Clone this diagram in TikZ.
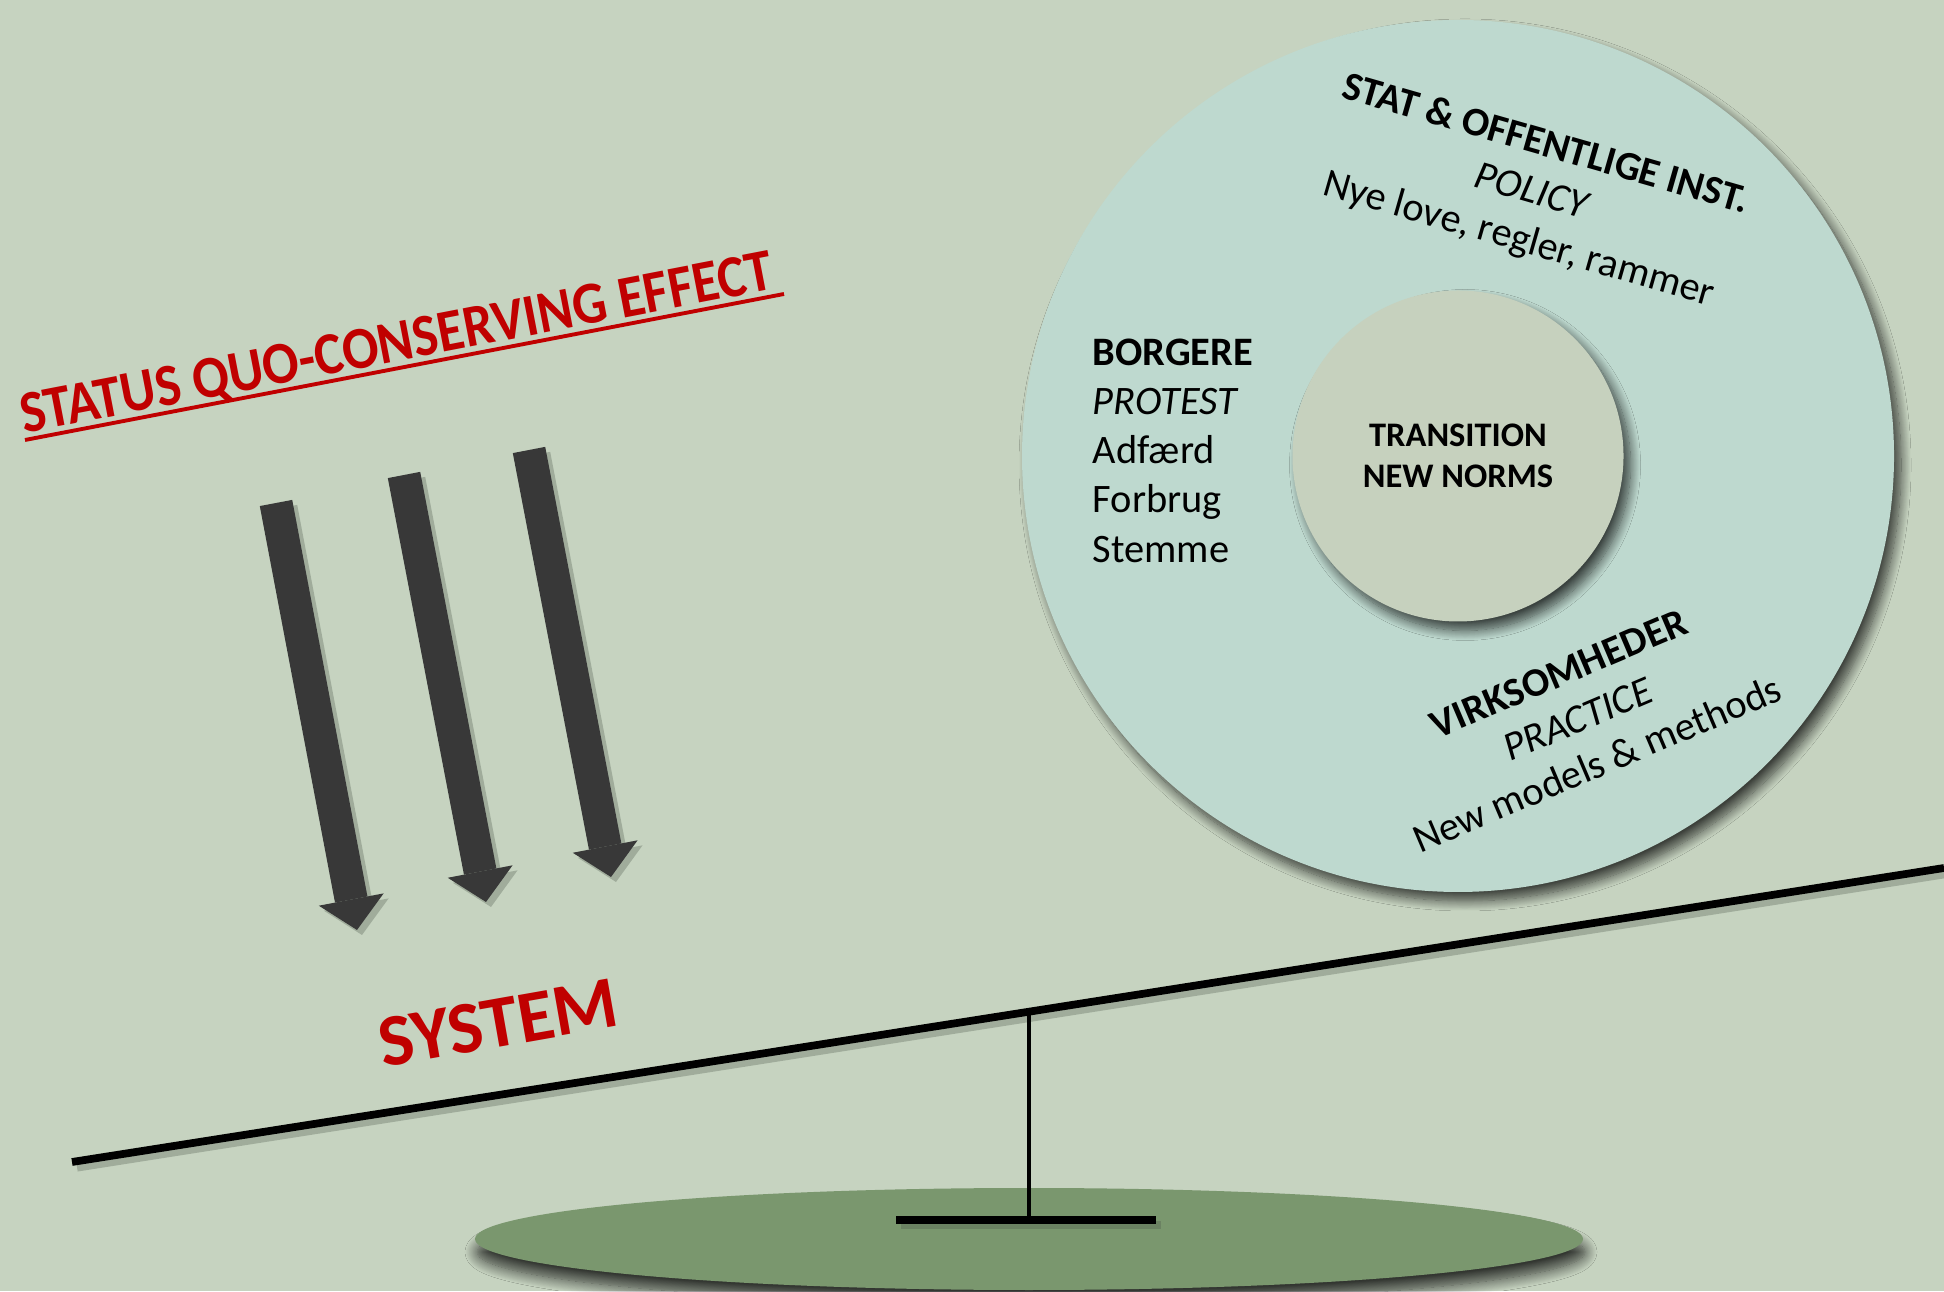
\documentclass[tikz,border=0pt]{standalone}
\usepackage{fontspec}
\setmainfont{Carlito}
\usetikzlibrary{arrows.meta,shadows.blur}

\definecolor{sage}{HTML}{C6D3C0}
\definecolor{ringteal}{HTML}{BED9CF}
\definecolor{coresage}{HTML}{C6D1BE}
\definecolor{ground}{HTML}{7A976E}
\definecolor{arrowgrey}{HTML}{383838}
\definecolor{alertred}{HTML}{C00000}
\definecolor{shadowgrey}{HTML}{4A5448}

\begin{document}
\begin{tikzpicture}[
    every node/.style={inner sep=0pt},
    softshadow/.style={blur shadow={shadow xshift=0.07cm, shadow yshift=-0.09cm,
        shadow blur radius=0.1cm, shadow blur steps=14, shadow opacity=70}},
    disc/.style={circle, softshadow},
    body/.style={font=\fontsize{11.5}{14}\selectfont, align=center},
    redtext/.style={text=alertred, font=\bfseries#1},
    pusharrow/.style={arrowgrey, line width=0.33cm,
        -{Triangle[length=0.31cm, width=0.66cm, line width=0pt]}},
    shade/.style={shadowgrey, opacity=0.3, transform canvas={shift={(0.05,-0.05)}}},
    bar/.style={black, line width=#1}]

    \useasboundingbox (0,0) rectangle (19.44,12.91);
    \fill[sage] (0,0) rectangle (19.44,12.91);

    % Ground plate under the seesaw
    \fill[ground, blur shadow={shadow xshift=0.02cm, shadow yshift=-0.13cm,
        shadow blur radius=0.12cm, shadow blur steps=14, shadow opacity=75}]
        (10.29,0.52) ellipse [x radius=5.54, y radius=0.51];

    % Seesaw beam, post and foot
    \coordinate (beamL) at (0.72,1.29);
    \coordinate (beamR) at (19.44,4.23);
    \coordinate (pivot) at (10.29,2.78);
    \coordinate (foot) at (10.29,0.71);
    \coordinate (footL) at (8.96,0.71);
    \coordinate (footR) at (11.56,0.71);
    \draw[shade, line width=2.6pt] (beamL) -- (beamR);
    \draw[shade, line width=2.5pt] (footL) -- (footR);
    \draw[bar=2.2pt] (beamL) -- (beamR);
    \draw[bar=1.4pt] (pivot) -- (foot);
    \draw[bar=2.1pt] (footL) -- (footR);

    % Rings of actors
    \node[disc, fill=ringteal, minimum size=8.72cm] (ring) at (14.58,8.35) {};
    \node[disc, fill=coresage, minimum size=3.31cm, body,
          font=\bfseries\fontsize{9.8}{11.6}\selectfont] (core) at (ring.center)
          {TRANSITION\\NEW NORMS};

    \node[body, rotate=-16] (policy) at (15.32,10.98)
          {\textbf{STAT \& OFFENTLIGE INST.}\\ \textit{POLICY}\\ Nye love, regler, rammer};
    \node[body, align=left, anchor=north west] (citizens) at (10.92,9.53)
          {\textbf{BORGERE}\\ \textit{PROTEST}\\ Adfærd\\ Forbrug\\ Stemme};
    \node[body, rotate=23] (firms) at (15.78,5.72)
          {\textbf{VIRKSOMHEDER}\\ \textit{PRACTICE}\\ New models \& methods};

    % Status quo arrows pushing down
    \coordinate (push1a) at (2.76,7.88);
    \coordinate (push1b) at (3.57,3.61);
    \coordinate (push2a) at (4.04,8.16);
    \coordinate (push2b) at (4.86,3.89);
    \coordinate (push3a) at (5.29,8.41);
    \coordinate (push3b) at (6.11,4.14);
    \draw[pusharrow, shade] (push1a) -- (push1b);
    \draw[pusharrow, shade] (push2a) -- (push2b);
    \draw[pusharrow, shade] (push3a) -- (push3b);
    \draw[pusharrow] (push1a) -- (push1b);
    \draw[pusharrow] (push2a) -- (push2b);
    \draw[pusharrow] (push3a) -- (push3b);

    % Red labels
    \node[redtext=\fontsize{17}{20}\selectfont, rotate=10.9, xscale=0.9, anchor=base] (title)
          at (4.0,9.30) {STATUS QUO-CONSERVING EFFECT};
    \coordinate (ulL) at (0.25,8.51);
    \coordinate (ulR) at (7.84,9.97);
    \draw[alertred, line width=1.1pt] (ulL) -- (ulR);

    \node[redtext=\fontsize{21}{25}\selectfont, rotate=10] (system) at (4.98,2.68) {SYSTEM};
\end{tikzpicture}
\end{document}
